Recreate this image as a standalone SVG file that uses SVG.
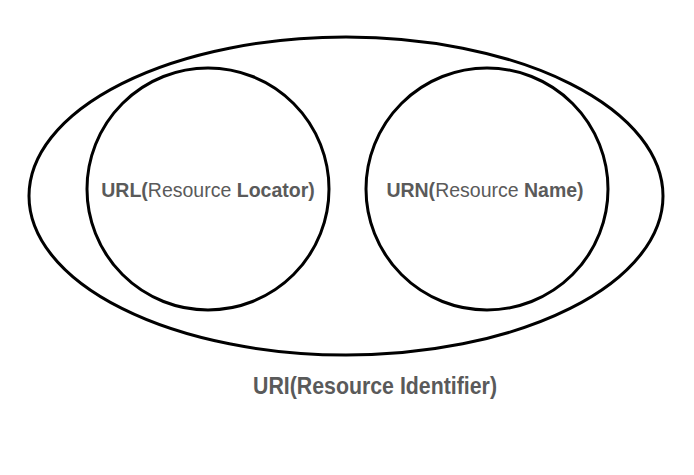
<svg xmlns="http://www.w3.org/2000/svg" width="694" height="475" viewBox="0 0 694 475">
<style>
.shape{fill:none;stroke:#000;stroke-width:3}
.t{font-family:"Liberation Sans",Arial,sans-serif;fill:#5a5a5a}
.b{font-weight:bold}
</style>
<rect width="694" height="475" fill="#fff"/>
<g id="uri">
<ellipse class="shape" cx="346" cy="196" rx="317" ry="159"/>
<text class="t b" x="253" y="394" font-size="23" textLength="244" lengthAdjust="spacingAndGlyphs">URI(Resource Identifier)</text>
</g>
<g id="url">
<circle class="shape" cx="208" cy="189" r="121"/>
<text class="t" x="208" y="197" font-size="19.5" text-anchor="middle"><tspan class="b">URL(</tspan>Resource <tspan class="b">Locator)</tspan></text>
</g>
<g id="urn">
<circle class="shape" cx="487" cy="189" r="121"/>
<text class="t" x="485" y="197" font-size="19.5" text-anchor="middle"><tspan class="b">URN(</tspan>Resource <tspan class="b">Name)</tspan></text>
</g>
<g id="connectors"/>
</svg>
